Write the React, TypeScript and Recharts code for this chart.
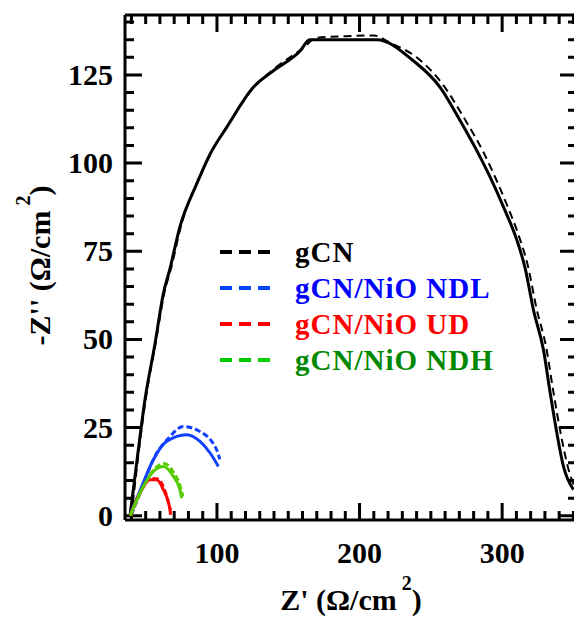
import { LineChart, Line, XAxis, YAxis, Label } from 'recharts'

// gCN fit (solid) and measured (dashed)
const gcnFitX = [39, 44, 49.5, 56.6, 62.4, 67, 74, 85.8, 95.2, 106.9, 125.5, 139.6, 158.3, 165, 212, 237.8, 256.5, 270.6, 284.6, 291.6, 301, 310.4, 316.2, 322, 329, 333.7, 338.4, 343, 350]
const gcnFitY = [0, 16, 32.9, 48.9, 63, 70, 81.9, 94.1, 102.6, 110.2, 121.5, 126.2, 131.8, 135, 135, 129, 121.5, 112, 101.7, 96, 87.5, 78.1, 70.1, 58.3, 47, 34.8, 23.4, 14, 7.4]
const gcnDataX = [40, 50, 57, 63, 68, 75, 86, 96, 108, 127, 141, 160, 170, 190, 210, 222, 240, 258, 273, 287, 294, 303, 312, 318, 324, 331, 336, 341, 346, 352]
const gcnDataY = [0, 33, 49, 63, 70.5, 82.5, 94.5, 103, 111, 122, 127, 132.5, 135.5, 136, 136.2, 134, 130, 122.5, 113, 103, 97, 88.5, 79, 71, 59, 47.5, 35, 23.5, 14, 7]

// gCN/NiO NDL
const ndlFitX = [39, 46, 55.4, 64.8, 78.8, 88.1, 95.2, 101]
const ndlFitY = [0.3, 7.1, 15.9, 21.1, 23, 21.1, 17.8, 14]
const ndlDataX = [40, 47, 56, 66, 76.4, 88, 99.8, 102]
const ndlDataY = [0.3, 7.5, 16.5, 22, 25.3, 23.9, 18.7, 16]

// gCN/NiO UD
const udFitX = [39, 46, 53, 57.7, 62.4, 67, 67.5]
const udFitY = [0, 6.5, 10.2, 10.2, 7.4, 1.8, 0.3]
const udDataX = [39.5, 46.5, 53.5, 58.5, 63, 67.5]
const udDataY = [0, 6.8, 10.6, 10.4, 7.6, 1.5]

// gCN/NiO NDH
const ndhFitX = [39, 48.3, 55.4, 62.4, 69.4, 74, 75.3]
const ndhFitY = [0, 8.3, 12.6, 14, 11.2, 7.4, 5]
const ndhDataX = [39.5, 49, 56, 63, 70, 74.5, 76]
const ndhDataY = [0, 8.8, 13.2, 14.8, 12, 8, 5.5]

const X_MAJOR = [100, 200, 300]
const Y_MAJOR = [0, 25, 50, 75, 100, 125]
const X_TICKS = [40, 50, 60, 70, 80, 90, 100, 110, 120, 130, 140, 150, 160, 170, 180, 190, 200, 210, 220, 230, 240, 250, 260, 270, 280, 290, 300, 310, 320, 330, 340, 350]
const Y_TICKS = [0, 5, 10, 15, 20, 25, 30, 35, 40, 45, 50, 55, 60, 65, 70, 75, 80, 85, 90, 95, 100, 105, 110, 115, 120, 125, 130, 135, 140]
const X_DOMAIN = [35.5, 352.5]
const Y_DOMAIN = [-1.2, 142]

const zip = (xs: number[], ys: number[]) => xs.map((x, i) => ({ x, y: ys[i] }))

const SERIES = [
  { name: 'gCN', color: '#000000', text: '#000000', legend: '#000000', fit: zip(gcnFitX, gcnFitY), pts: zip(gcnDataX, gcnDataY), dash: '8 5', dataWidth: 2 },
  { name: 'gCN/NiO NDL', color: '#1040ff', text: '#0000ff', legend: '#0044ff', fit: zip(ndlFitX, ndlFitY), pts: zip(ndlDataX, ndlDataY), dash: '6 3', dataWidth: 3 },
  { name: 'gCN/NiO UD', color: '#ff0000', text: '#ff0000', legend: '#ff0000', fit: zip(udFitX, udFitY), pts: zip(udDataX, udDataY), dash: '6 3', dataWidth: 3 },
  { name: 'gCN/NiO NDH', color: '#55cc00', text: '#008800', legend: '#00cc00', fit: zip(ndhFitX, ndhFitY), pts: zip(ndhDataX, ndhDataY), dash: '6 3', dataWidth: 3 },
]

// inward tick marks drawn as broken line series (lengths in axis units ≈ 17px major / 9px minor)
const X_LEN = { major: 4.8, minor: 2.55 } // along y
const Y_LEN = { major: 11.9, minor: 6.3 } // along x
const [x0, x1] = X_DOMAIN
const [y0, y1] = Y_DOMAIN
const xLen = (v: number) => (X_MAJOR.includes(v) ? X_LEN.major : X_LEN.minor)
const yLen = (v: number) => (Y_MAJOR.includes(v) ? Y_LEN.major : Y_LEN.minor)
const TICK_SEGS = [
  X_TICKS.flatMap((v) => [{ x: v, y: y0 }, { x: v, y: y0 + xLen(v) }, { x: v, y: null }]),
  X_TICKS.flatMap((v) => [{ x: v, y: y1 }, { x: v, y: y1 - xLen(v) }, { x: v, y: null }]),
  Y_TICKS.flatMap((v) => [{ x: x0, y: v }, { x: x0 + yLen(v), y: v }, { x: x0 + yLen(v), y: null }]),
  Y_TICKS.flatMap((v) => [{ x: x1, y: v }, { x: x1 - yLen(v), y: v }, { x: x1 - yLen(v), y: null }]),
]

const FONT = '"Liberation Serif", "Times New Roman", serif'

function BottomTick({ x, y, payload }: any) {
  return (
    <text x={x} y={y + 43} textAnchor="middle" fontFamily={FONT} fontWeight="bold" fontSize={30} fill="#000">
      {payload.value}
    </text>
  )
}

function LeftTick({ x, y, payload }: any) {
  return (
    <text x={x - 12} y={y + 10} textAnchor="end" fontFamily={FONT} fontWeight="bold" fontSize={30} fill="#000">
      {payload.value}
    </text>
  )
}

function LegendBox() {
  return (
    <div style={{ position: 'absolute', left: 212, top: 226 }}>
      {SERIES.map((s) => (
        <div key={s.name} style={{ display: 'flex', alignItems: 'center', height: 36 }}>
          <svg width={50} height={6}>
            <line x1={0} x2={50} y1={3} y2={3} stroke={s.legend} strokeWidth={4} strokeDasharray="12 7" />
          </svg>
          <span style={{ marginLeft: 25, color: s.text, fontFamily: FONT, fontWeight: 'bold', fontSize: 29, letterSpacing: 1, lineHeight: '36px', whiteSpace: 'nowrap' }}>
            {s.name}
          </span>
        </div>
      ))}
    </div>
  )
}

const axisLine = { stroke: '#000', strokeWidth: 3 }

export default function App() {
  return (
    <div style={{ position: 'relative', width: 574, height: 616 }}>
      <LineChart width={574} height={616} margin={{ top: 2, right: 0, bottom: 8, left: 32 }}>
        <XAxis
          xAxisId="b"
          type="number"
          dataKey="x"
          domain={X_DOMAIN}
          ticks={X_MAJOR}
          interval={0}
          tickSize={0}
          tickMargin={0}
          height={96}
          axisLine={axisLine}
          tickLine={false}
          tick={BottomTick}
          allowDataOverflow
        >
          <Label
            content={({ viewBox }: any) => (
              <text x={viewBox.x + viewBox.width / 2} y={viewBox.y + 90} textAnchor="middle" fontFamily={FONT} fontWeight="bold" fontSize={30} fill="#000">
                Z' (Ω/cm
                <tspan dy={-20} fontSize={20}> 2</tspan>
                <tspan dy={20}>)</tspan>
              </text>
            )}
          />
        </XAxis>
        <XAxis xAxisId="t" orientation="top" type="number" domain={X_DOMAIN} height={5} axisLine={axisLine} tickLine={false} tick={false} allowDataOverflow />
        <YAxis
          yAxisId="l"
          type="number"
          domain={Y_DOMAIN}
          ticks={Y_MAJOR}
          interval={0}
          tickSize={0}
          tickMargin={0}
          width={85}
          axisLine={axisLine}
          tickLine={false}
          tick={LeftTick}
          allowDataOverflow
        >
          <Label
            content={({ viewBox }: any) => {
              const cx = viewBox.x + 10
              const cy = viewBox.y + viewBox.height / 2 - 2
              return (
                <text x={cx} y={cy} transform={`rotate(-90 ${cx} ${cy})`} textAnchor="middle" fontFamily={FONT} fontWeight="bold" fontSize={30} fill="#000">
                  -Z'' (Ω/cm
                  <tspan dy={-20} fontSize={20}> 2</tspan>
                  <tspan dy={20}>)</tspan>
                </text>
              )
            }}
          />
        </YAxis>
        <YAxis yAxisId="r" orientation="right" type="number" domain={Y_DOMAIN} width={5} axisLine={axisLine} tickLine={false} tick={false} allowDataOverflow />

        {TICK_SEGS.map((seg, i) => (
          <Line
            key={'ticks' + i}
            xAxisId="b"
            yAxisId="l"
            data={seg}
            dataKey="y"
            type="linear"
            legendType="none"
            stroke="#000"
            strokeWidth={3}
            dot={false}
            activeDot={false}
            isAnimationActive={false}
          />
        ))}
        {SERIES.map((s) => (
          <Line
            key={s.name + '-pts'}
            xAxisId="b"
            yAxisId="l"
            data={s.pts}
            dataKey="y"
            type="monotone"
            name={s.name}
            stroke={s.color}
            strokeWidth={s.dataWidth}
            strokeDasharray={s.dash}
            dot={false}
            isAnimationActive={false}
          />
        ))}
        {SERIES.map((s) => (
          <Line
            key={s.name + '-fit'}
            xAxisId="b"
            yAxisId="l"
            data={s.fit}
            dataKey="y"
            type="monotone"
            legendType="none"
            stroke={s.color}
            strokeWidth={3}
            dot={false}
            isAnimationActive={false}
          />
        ))}
      </LineChart>
      <LegendBox />
    </div>
  )
}
